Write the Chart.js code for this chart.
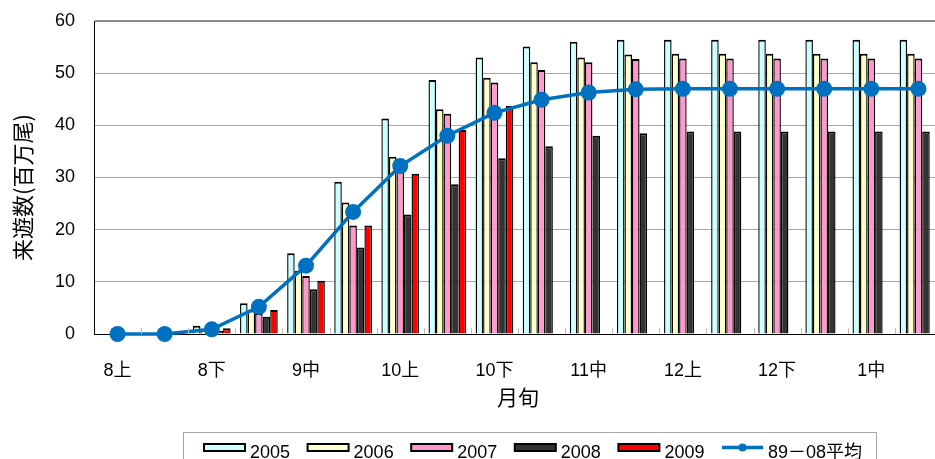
<!DOCTYPE html>
<html>
<head>
<meta charset="utf-8">
<script src="https://cdn.jsdelivr.net/npm/chart.js@4/dist/chart.umd.min.js"></script>
<style>
  html, body { margin: 0; padding: 0; overflow: hidden; background: #fff; width: 935px; height: 459px; }
  #wrap { width: 950px; height: 459px; }
</style>
</head>
<body>
<div id="wrap"><canvas id="c" width="950" height="459"></canvas></div>
<script>
// 旬別の累積来遊数（百万尾）
const periods = ['8上','8中','8下','9上','9中','9下','10上','10中','10下','11上','11中','11下','12上','12中','12下','1上','1中','1下'];
const shownPeriods = ['8上','8下','9中','10上','10下','11中','12上','12下','1中'];
const yTicks = [0, 10, 20, 30, 40, 50, 60];

const years = ['2005', '2006', '2007', '2008', '2009'];
const s2005 = [0.1, 0.1, 1.6, 5.9, 15.5, 29.2, 41.3, 48.7, 53.0, 55.1, 56.0, 56.4, 56.4, 56.4, 56.4, 56.4, 56.4, 56.4];
const s2006 = [0.1, 0.1, 1.0, 4.5, 12.1, 25.2, 34.0, 43.1, 49.1, 52.1, 53.0, 53.6, 53.7, 53.7, 53.7, 53.7, 53.7, 53.7];
const s2007 = [0.1, 0.1, 0.8, 4.0, 11.1, 20.8, 32.5, 42.2, 48.2, 50.6, 52.1, 52.7, 52.8, 52.8, 52.8, 52.8, 52.8, 52.8];
const s2008 = [0.1, 0.1, 0.6, 3.3, 8.6, 16.6, 22.9, 28.7, 33.7, 36.0, 38.0, 38.5, 38.8, 38.8, 38.8, 38.8, 38.8, 38.8];
const s2009 = [0.1, 0.1, 1.1, 4.6, 10.2, 20.8, 30.7, 39.1, 43.7, null, null, null, null, null, null, null, null, null];
const avgLabel = '89－08平均';
const avg89_08 = [0, 0, 0.9, 5.2, 13.1, 23.4, 32.2, 38.0, 42.4, 44.9, 46.3, 46.9, 47.0, 47.0, 47.0, 47.0, 47.0, 47.0];

const yearColors = ['#CCFFFF', '#FFFFCC', '#FF99CC', '#333333', '#FF0000'];
const lineColor = '#0070C0';
const FONT = '"Liberation Sans", "Noto Sans CJK JP", sans-serif';
const CJK_FONT = '"Noto Sans CJK JP", "Liberation Sans", sans-serif';

Chart.defaults.font.family = FONT;
Chart.defaults.color = '#000';

const yearData = [s2005, s2006, s2007, s2008, s2009];
const barSets = years.map((y, i) => ({
  type: 'bar',
  label: y,
  data: yearData[i],
  backgroundColor: yearColors[i],
  borderColor: '#000',
  borderWidth: { top: 2, left: 1.4, right: 1.4, bottom: 0 },
  borderSkipped: 'start',
  categoryPercentage: 0.8,
  barPercentage: 1.0,
  order: 1
}));

// 目盛り（内向き）
const innerTicks = {
  id: 'innerTicks',
  afterDatasetsDraw(chart) {
    const { ctx, chartArea, scales: { x } } = chart;
    const n = x.ticks.length;
    const step = (chartArea.right - chartArea.left) / n;
    ctx.save();
    ctx.strokeStyle = '#bfbfbf';
    ctx.lineWidth = 1;
    for (let i = 1; i <= n; i++) {
      const px = Math.round(chartArea.left + i * step) + 0.5;
      ctx.beginPath();
      ctx.moveTo(px, chartArea.bottom - 6);
      ctx.lineTo(px, chartArea.bottom);
      ctx.stroke();
    }
    ctx.restore();
  }
};

// 縦軸タイトル
const yTitle = {
  id: 'yTitle',
  afterDraw(chart) {
    const { ctx, chartArea } = chart;
    ctx.save();
    ctx.translate(22.5, (chartArea.top + chartArea.bottom) / 2 + 10);
    ctx.rotate(-Math.PI / 2);
    ctx.font = '22px ' + CJK_FONT;
    ctx.fillStyle = '#000';
    ctx.textAlign = 'center';
    ctx.textBaseline = 'middle';
    ctx.fillText('来遊数(百万尾)', 0, 0);
    ctx.restore();
  }
};

// 凡例（枠付き）
const boxedLegend = {
  id: 'boxedLegend',
  afterDraw(chart) {
    const { ctx } = chart;
    ctx.save();
    ctx.strokeStyle = '#a6a6a6';
    ctx.lineWidth = 1;
    ctx.strokeRect(183.5, 432.5, 693, 60);
    ctx.font = '18px ' + FONT;
    ctx.fillStyle = '#000';
    ctx.textBaseline = 'alphabetic';
    const x0 = 204, stepX = 103.6, boxW = 41;
    chart.data.datasets.forEach((ds, i) => {
      const x = x0 + i * stepX;
      if (ds.type === 'bar') {
        ctx.fillStyle = ds.backgroundColor;
        ctx.fillRect(x, 444, boxW, 7);
        ctx.strokeStyle = '#000';
        ctx.lineWidth = 2;
        ctx.strokeRect(x, 444, boxW, 7);
      } else {
        ctx.strokeStyle = ds.borderColor;
        ctx.lineWidth = 3.5;
        ctx.beginPath();
        ctx.moveTo(x, 447.5);
        ctx.lineTo(x + boxW, 447.5);
        ctx.stroke();
        ctx.fillStyle = ds.borderColor;
        ctx.beginPath();
        ctx.arc(x + boxW / 2, 447.5, 4, 0, Math.PI * 2);
        ctx.fill();
      }
      ctx.fillStyle = '#000';
      ctx.fillText(ds.label, x + boxW + 5, 457.5);
    });
    ctx.restore();
  }
};

new Chart(document.getElementById('c'), {
  type: 'bar',
  data: {
    labels: periods,
    datasets: [
      ...barSets,
      {
        type: 'line',
        label: avgLabel,
        data: avg89_08,
        borderColor: lineColor,
        backgroundColor: lineColor,
        borderWidth: 3.5,
        pointRadius: 8,
        pointHoverRadius: 8,
        pointBorderWidth: 0,
        pointBackgroundColor: lineColor,
        tension: 0,
        clip: false,
        order: 0
      }
    ]
  },
  options: {
    responsive: false,
    animation: false,
    devicePixelRatio: 1,
    layout: { autoPadding: false, padding: { top: 21, right: 8, bottom: 49, left: 0 } },
    plugins: { legend: { display: false }, tooltip: { enabled: false } },
    scales: {
      x: {
        grid: { display: true, drawOnChartArea: false, drawTicks: false, color: 'transparent' },
        border: { display: true, color: '#000', width: 1 },
        ticks: {
          autoSkip: false, maxRotation: 0, minRotation: 0, padding: 26,
          font: { size: 18 }, color: '#000',
          callback(v, i) { const l = periods[i]; return shownPeriods.includes(l) ? l : ''; }
        },
        title: { display: true, text: '月旬', font: { size: 21, family: CJK_FONT }, color: '#000', padding: { top: 0, bottom: 0 } },
        afterFit(s) { s.height = 76; s.paddingLeft = 0; s.paddingRight = 0; }
      },
      y: {
        min: 0, max: 60,
        afterBuildTicks(s) { s.ticks = yTicks.map(v => ({ value: v })); },
        ticks: { padding: 19, font: { size: 18 }, color: '#000' },
        grid: {
          drawTicks: false,
          color: c => c.tick.value === 60 ? '#8c8c8c' : (c.tick.value === 0 ? '#000' : '#a6a6a6'),
          lineWidth: c => c.tick.value === 60 ? 2 : 1
        },
        border: { display: true, color: '#000', width: 1 },
        afterFit(s) { s.width = 94; s.paddingTop = 10; s.paddingBottom = 10; }
      }
    }
  },
  plugins: [innerTicks, yTitle, boxedLegend]
});
</script>
</body>
</html>
